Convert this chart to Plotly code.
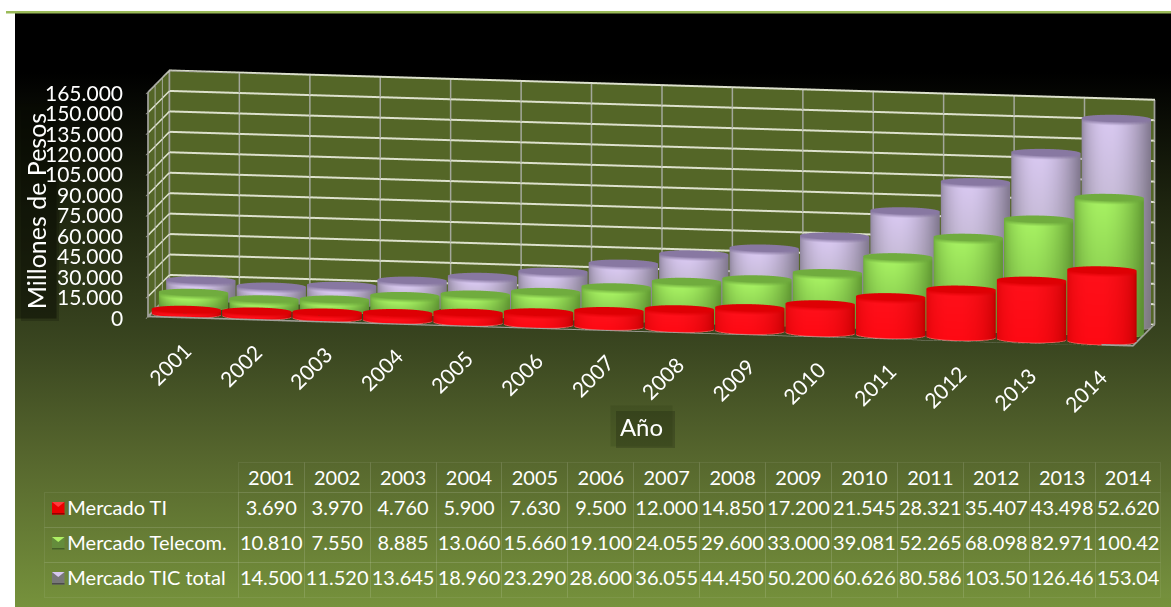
import base64
import numpy as np
import plotly.graph_objects as go

W, H = 1171, 607
YEARS = [2001, 2002, 2003, 2004, 2005, 2006, 2007, 2008, 2009, 2010, 2011, 2012, 2013, 2014]
MERCADO_TI = [3690, 3970, 4760, 5900, 7630, 9500, 12000, 14850, 17200, 21545, 28321, 35407, 43498, 52620]
MERCADO_TELECOM = [10810, 7550, 8885, 13060, 15660, 19100, 24055, 29600, 33000, 39081, 52265, 68098, 82971, 100420]
MERCADO_TIC = [14500, 11520, 13645, 18960, 23290, 28600, 36055, 44450, 50200, 60626, 80586, 103500, 126460, 153040]
SERIES_NAMES = ["Mercado TI", "Mercado Telecom.", "Mercado TIC total"]
Z_TICKS = [0, 15000, 30000, 45000, 60000, 75000, 90000, 105000, 120000, 135000, 150000, 165000]

FONT = "Lato"
X0, X1, Y0, Y1, ZT = -0.5, 13.5, -0.5, 2.5, 165000
EPS_Y, EPS_X = 0.03, 0.006


def fmt(v, cut=6):
    return f"{v:,}".replace(",", ".")[:cut]


def mix(a, b, t):
    return tuple(a[i] + (b[i] - a[i]) * t for i in range(3))


def rgb(c):
    return f"rgb({int(c[0])},{int(c[1])},{int(c[2])})"


STYLES = [
    dict(edge=(195, 0, 0), mid=(255, 16, 26), edge_low=(190, 0, 0), mid_low=(255, 10, 20), top=(222, 0, 4),
         rim=(245, 130, 125), power=0.8),
    dict(edge=(100, 158, 52), mid=(166, 240, 98), edge_low=(92, 140, 50), mid_low=(125, 190, 72), top=(112, 172, 62),
         rim=(120, 170, 70), power=1.5),
    dict(edge=(132, 122, 146), mid=(216, 200, 240), edge_low=(125, 122, 128), mid_low=(172, 168, 176),
         top=(136, 120, 162), rim=(150, 150, 150), power=1.6),
]


def cylinder_mesh(values, depth, style, n=48, rx=0.49, ry=0.49):
    xs, ys, zs, cols, I, J, K = [], [], [], [], [], [], []
    angles = np.linspace(0, 2 * np.pi, n, endpoint=False)
    for cat, v in enumerate(values):
        base = len(xs)
        bev = min(2600, 0.45 * v)
        rim = min(900, 0.2 * v)
        levels = [0, rim, v - bev, v]
        for ang in angles:
            px, py = cat + rx * np.cos(ang), depth + ry * np.sin(ang)
            t = max(0.0, np.cos(ang + np.pi / 2 + 0.12)) ** style["power"]
            low = mix(style["edge_low"], style["mid_low"], t)
            high = mix(style["edge"], style["mid"], t)
            ring = [style["rim"], low, high, mix(style["top"], high, 0.2 * t)]
            for z, c in zip(levels, ring):
                xs.append(px)
                ys.append(py)
                zs.append(z)
                cols.append(rgb(c))
        for i in range(n):
            for lev in range(3):
                a, b = base + 4 * i + lev, base + 4 * ((i + 1) % n) + lev
                I += [a, b]
                J += [b, b + 1]
                K += [a + 1, a + 1]
        centre = len(xs)
        xs.append(cat)
        ys.append(depth)
        zs.append(v)
        cols.append(rgb(style["top"]))
        first = len(xs)
        for ang in angles:
            xs.append(cat + rx * np.cos(ang))
            ys.append(depth + ry * np.sin(ang))
            zs.append(v)
            cols.append(rgb(style["top"]))
        for i in range(n):
            I.append(centre)
            J.append(first + i)
            K.append(first + (i + 1) % n)
    return go.Mesh3d(
        x=xs, y=ys, z=zs, i=I, j=J, k=K, vertexcolor=cols, flatshading=False,
        lighting=dict(ambient=1.0, diffuse=0.0, specular=0.0, fresnel=0.0, roughness=1.0),
        hoverinfo="skip", showscale=False,
    )


def lines3d(segments, color, width):
    xs, ys, zs = [], [], []
    for (a, b) in segments:
        xs += [a[0], b[0], None]
        ys += [a[1], b[1], None]
        zs += [a[2], b[2], None]
    return go.Scatter3d(x=xs, y=ys, z=zs, mode="lines", line=dict(color=color, width=width),
                        hoverinfo="skip", showlegend=False)


fig = go.Figure()
for d, (vals, st) in enumerate(zip([MERCADO_TI, MERCADO_TELECOM, MERCADO_TIC], STYLES)):
    fig.add_trace(cylinder_mesh(vals, d, st))

YB, XL = Y1 - EPS_Y, X0 + EPS_X
fig.add_trace(lines3d([((X0, YB, z), (X1, YB, z)) for z in Z_TICKS], "#dde1cd", 4))
fig.add_trace(lines3d([((XL, Y0, z), (XL, Y1, z)) for z in Z_TICKS], "#dde1cd", 3))
fig.add_trace(lines3d([((i - 0.5, YB, 0), (i - 0.5, YB, ZT)) for i in range(1, 14)], "#a3a79b", 3))
fig.add_trace(lines3d([((XL, y, 0), (XL, y, ZT)) for y in (0.5, 1.5)], "#a3a79b", 2))
fig.add_trace(lines3d([((X0, Y0, 500), (X1, Y0, 500)), ((X1 - EPS_X, Y0, 500), (X1 - EPS_X, Y1, 500)), ((XL, Y0, 500), (XL, Y1, 500)),
                       ((XL, Y0, 0), (XL, Y0, ZT)), ((XL, YB, 0), (XL, YB, ZT)), ((X1 - EPS_X, YB, 0), (X1 - EPS_X, YB, ZT)),
                       ((X0, YB, ZT), (X1, YB, ZT)), ((XL, Y0, ZT), (XL, Y1, ZT))], "#a0a09a", 3.5))

header = [""] + [str(y) for y in YEARS]
first_col = ["\u00a0\u00a0\u00a0" + s.replace(" ", "\u00a0") for s in SERIES_NAMES]
cols = [first_col] + [[fmt(a), fmt(b), fmt(c)] for a, b, c in zip(MERCADO_TI, MERCADO_TELECOM, MERCADO_TIC)]
LINE = "rgba(255,255,255,0.07)"
fig.add_trace(go.Table(
    domain=dict(x=[44 / W, 1161 / W], y=[1 - 598 / H, 1 - 462 / H]),
    columnwidth=[194] + [65.8] * 14,
    header=dict(values=header, height=30, fill_color="rgba(0,0,0,0)",
                line=dict(color=["rgba(0,0,0,0)"] + [LINE] * 14, width=1),
                font=dict(family=FONT, size=20, color="white"), align="center"),
    cells=dict(values=cols, height=35, fill_color="rgba(0,0,0,0)",
               line=dict(color=LINE, width=1),
               font=dict(family=FONT, size=20, color="white"),
               align=["left"] + ["center"] * 14),
))

stops = [(0, "#000000"), (0.10, "#000000"), (0.33, "#1f2610"), (0.56, "#3a4620"), (0.74, "#55652d"), (1, "#76923c")]
stop_svg = "".join(f'<stop offset="{o}" stop-color="{c}"/>' for o, c in stops)
svg = (f'<svg xmlns="http://www.w3.org/2000/svg" width="{W}" height="{H}">'
       f'<defs><linearGradient id="g" x1="0" y1="0" x2="0" y2="1">{stop_svg}</linearGradient></defs>'
       f'<rect width="{W}" height="{H}" fill="url(#g)"/></svg>')
src = "data:image/svg+xml;base64," + base64.b64encode(svg.encode()).decode()

shapes = [
    dict(type="rect", xref="paper", yref="paper", x0=6 / W, x1=1, y0=1 - 13.5 / H, y1=1 - 11 / H,
         fillcolor="#9bbb59", line_width=0, layer="above"),
    dict(type="rect", xref="paper", yref="paper", x0=616 / W, x1=675 / W, y0=1 - 448 / H, y1=1 - 411 / H,
         fillcolor="rgba(0,0,0,0.18)", line_width=0, layer="below"),
    dict(type="rect", xref="paper", yref="paper", x0=21 / W, x1=59 / W, y0=1 - 321 / H, y1=1 - 110 / H,
         fillcolor="rgba(0,0,0,0.18)", line_width=0, layer="below"),
]
KEY = [((235, 0, 0), (255, 60, 60), (150, 0, 0)), ((100, 140, 60), (175, 240, 100), (70, 95, 40)),
       ((120, 120, 120), (215, 200, 240), (75, 75, 75))]
for r, (body, hi, lo) in enumerate(KEY):
    y0 = 502 + 35 * r
    s = 12.5
    x0 = 52
    shapes.append(dict(type="rect", xref="paper", yref="paper", x0=x0 / W, x1=(x0 + s) / W, y0=1 - (y0 + s) / H,
                       y1=1 - y0 / H, fillcolor=rgb(body), line_width=0))
    shapes.append(dict(type="path", xref="paper", yref="paper", line_width=0, fillcolor=rgb(hi),
                       path=f"M {x0 / W} {1 - y0 / H} L {(x0 + s) / W} {1 - y0 / H} L {(x0 + s / 2) / W} {1 - (y0 + 5) / H} Z"))
    shapes.append(dict(type="rect", xref="paper", yref="paper", x0=x0 / W, x1=(x0 + s) / W, y0=1 - (y0 + s) / H,
                       y1=1 - (y0 + s - 1.5) / H, fillcolor=rgb(lo), line_width=0))

scene_ann = []
for z in Z_TICKS:
    scene_ann.append(dict(x=X0, y=Y0, z=z, text=fmt(z, 7), showarrow=False, xanchor="right", yanchor="middle",
                          xshift=-23, font=dict(family=FONT, size=21, color="white")))
for i, y in enumerate(YEARS):
    scene_ann.append(dict(x=i, y=Y0, z=0, text=str(y), showarrow=False, textangle=-45, xanchor="center",
                          yanchor="middle", xshift=-13, yshift=-45, font=dict(family=FONT, size=21, color="white")))

axis_common = dict(showspikes=False, title=dict(text=""), showticklabels=False, showgrid=False,
                   showbackground=True, zeroline=False, showline=False)
C = (-0.205, -0.089, -0.309)
D = 6.0
fig.update_layout(
    width=W, height=H, margin=dict(l=0, r=0, t=0, b=0), paper_bgcolor="white", plot_bgcolor="rgba(0,0,0,0)",
    showlegend=False,
    images=[dict(source=src, xref="paper", yref="paper", x=15 / W, y=1 - 13 / H, sizex=1 - 15 / W, sizey=1 - 13 / H,
                 sizing="stretch", xanchor="left", yanchor="top", layer="below")],
    shapes=shapes,
    annotations=[
        dict(xref="paper", yref="paper", x=36 / W, y=1 - 211 / H, text="Millones de Pesos", textangle=-90,
             showarrow=False, bgcolor="rgba(8,12,2,0.45)", font=dict(family=FONT, size=25, color="white"),
             xanchor="center", yanchor="middle", width=212, height=38),
        dict(xref="paper", yref="paper", x=641.5 / W, y=1 - 426 / H, text="Año", showarrow=False,
             bgcolor="rgba(20,30,0,0.12)", font=dict(family=FONT, size=24, color="white"),
             xanchor="center", yanchor="middle", width=59, height=38),
    ],
    scene=dict(
        domain=dict(x=[0, 1], y=[0, 1]),
        bgcolor="rgba(0,0,0,0)",
        aspectmode="manual",
        aspectratio=dict(x=3.296, y=0.4224, z=0.7525),
        camera=dict(projection=dict(type="orthographic"), up=dict(x=0, y=0, z=1),
                    center=dict(x=C[0], y=C[1], z=C[2]),
                    eye=dict(x=C[0] + 0.166 * D, y=C[1] - 0.970 * D, z=C[2] + 0.1736 * D)),
        xaxis=dict(range=[X0, X1], tickvals=[], ticks="", backgroundcolor="#546627", **axis_common),
        yaxis=dict(range=[Y0, Y1], tickvals=[], ticks="", backgroundcolor="#546627", **axis_common),
        zaxis=dict(range=[0, ZT], tickvals=Z_TICKS, ticks="outside", ticklen=5, tickcolor="#a0a09a", tickwidth=2,
                   backgroundcolor="#3b4720", **axis_common),
        annotations=scene_ann,
    ),
)
fig.write_html("out.html", config=dict(displayModeBar=False),
               post_script="document.body.style.margin='0';document.body.style.overflow='hidden';")
